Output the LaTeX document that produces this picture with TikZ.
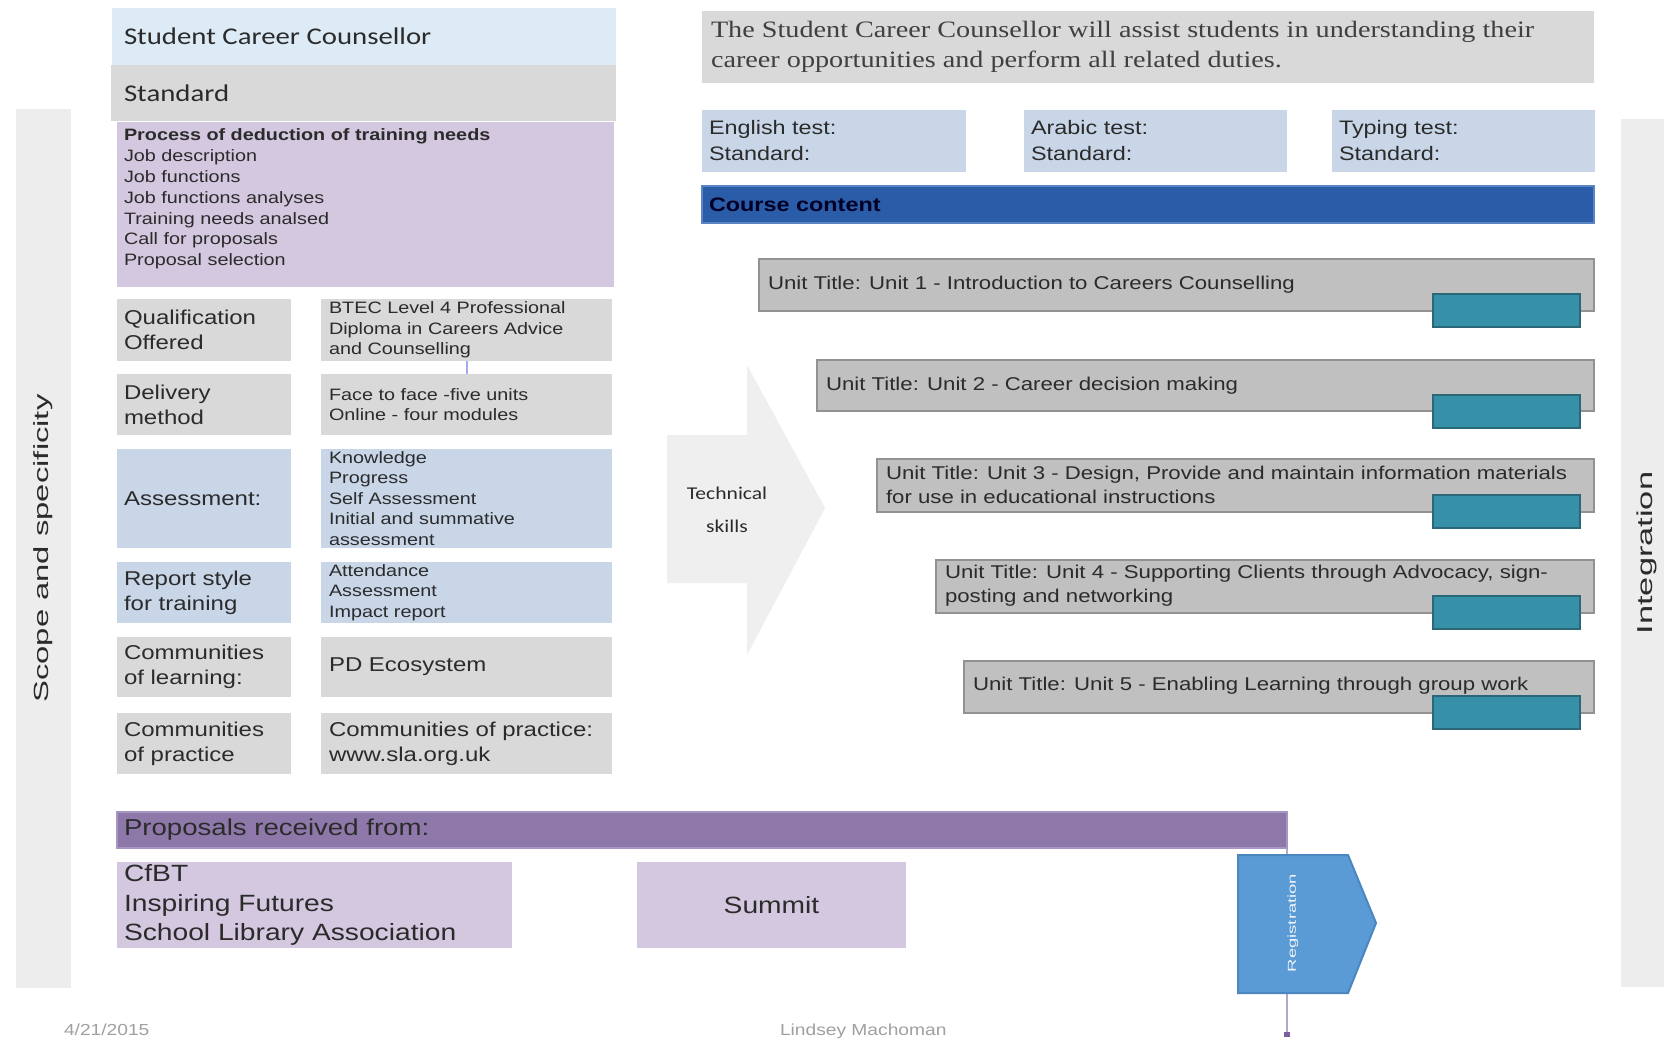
\documentclass[tikz,border=0pt]{standalone}
\usepackage{fontspec}
\usetikzlibrary{arrows.meta,calc}
\setmainfont{Liberation Sans}
\newfontfamily\ar[FakeStretch=1.2]{Liberation Sans}
\newfontfamily\cb[FakeStretch=1.2]{Carlito}
\newfontfamily\tm[FakeStretch=1.2]{Liberation Serif}
\newfontfamily\vr[FakeStretch=1.6]{Liberation Sans}

\definecolor{ink}{HTML}{2B2B2B}
\definecolor{titlebl}{HTML}{DDEBF7}
\definecolor{stdgrey}{HTML}{D9D9D9}
\definecolor{lav}{HTML}{D3C8DF}
\definecolor{rowbl}{HTML}{C8D6E8}
\definecolor{unitgr}{HTML}{C0C0C0}
\definecolor{unitbd}{HTML}{929292}
\definecolor{tealbar}{HTML}{3590A8}
\definecolor{tealbd}{HTML}{2A6878}
\definecolor{course}{HTML}{2A5CA7}
\definecolor{coursebd}{HTML}{5A84C4}
\definecolor{propbar}{HTML}{8E78AA}
\definecolor{propbd}{HTML}{A896C2}
\definecolor{sidegr}{HTML}{EDEDED}
\definecolor{arrowgr}{HTML}{EFEFEF}
\definecolor{regblue}{HTML}{5B9BD5}
\definecolor{regbd}{HTML}{4A87C0}
\definecolor{linklav}{HTML}{B5A6CD}
\definecolor{linkdot}{HTML}{7A5EA0}
\definecolor{linkblue}{HTML}{A8A8F2}
\definecolor{foot}{HTML}{A0A0A0}

\begin{document}
\begin{tikzpicture}[x=1pt,y=-1pt,
  box/.style={rectangle,inner sep=0pt,outer sep=0pt,anchor=north west,draw=none},
  sz/.style 2 args={minimum width=#1,minimum height=#2},
  t/.style={inner sep=0pt,outer sep=0pt,align=left,text=ink},
  lbl/.style={t,anchor=west,xshift=7pt,font=\fontsize{20}{25}\ar},
  small/.style={t,anchor=west,xshift=8pt,font=\fontsize{16.5}{20.5}\ar},
  big/.style={t,anchor=west,xshift=8pt,font=\fontsize{20}{25}\ar},
  unit/.style={box,fill=unitgr,draw=unitbd,line width=2.5pt},
  unittxt/.style={t,anchor=west,xshift=9pt,font=\fontsize{18.5}{24}\ar},
  tealbox/.style={box,fill=tealbar,draw=tealbd,line width=2pt,sz={147}{33}},
  testbox/.style={box,fill=rowbl,sz={263}{62}},
  testtxt/.style={t,anchor=west,xshift=7pt,font=\fontsize{19.5}{26}\ar},
  vtxt/.style={inner sep=0pt,text=ink,rotate=90},
]
\useasboundingbox (0,0) rectangle (1664,1041);
\clip (0,0) rectangle (1664,1041);
\fill[white] (0,0) rectangle (1664,1041);

% ---- side bars
\node[box,fill=sidegr,sz={55}{879}] (scope) at (16,109) {};
\node[vtxt,font=\fontsize{20.5}{24}\vr] (scope-t) at (scope.center) {Scope and specificity};
\node[box,fill=sidegr,sz={60}{868}] (integ) at (1621,119) {};
\node[vtxt,font=\fontsize{21.5}{24}\vr] (integ-t) at (1647,553) {Integration};

% ---- role header
\node[box,fill=titlebl,sz={504}{57}] (title) at (112,8) {};
\node[t,anchor=west,xshift=12pt,font=\fontsize{24}{28}\cb] (title-t) at (title.west) {Student Career Counsellor};
\node[box,fill=stdgrey,sz={505}{56}] (std) at (111,65) {};
\node[t,anchor=west,xshift=13pt,font=\fontsize{24}{28}\cb] (std-t) at (std.west) {Standard};

\node[box,fill=lav,sz={497}{165}] (needs) at (117,122) {};
\node[t,anchor=north west,font=\fontsize{16.5}{20.8}\ar] (needs-t) at ($(needs.north west)+(7,7)$)
  {\textbf{Process of deduction of training needs}\\Job description\\Job functions\\Job functions analyses\\Training needs analsed\\Call for proposals\\Proposal selection};

% ---- programme table
\node[box,fill=stdgrey,sz={174}{62}] (ql) at (117,299) {};
\node[lbl] (ql-t) at (ql.west) {Qualification\\Offered};
\node[box,fill=stdgrey,sz={291}{62}] (qr) at (321,299) {};
\node[small] (qr-t) at (qr.west) {BTEC Level 4 Professional\\Diploma in Careers Advice\\and Counselling};

\node[box,fill=stdgrey,sz={174}{61}] (dl) at (117,374) {};
\node[lbl] (dl-t) at (dl.west) {Delivery\\method};
\node[box,fill=stdgrey,sz={291}{61}] (dr) at (321,374) {};
\node[small] (dr-t) at (dr.west) {Face to face -five units\\Online - four modules};

\node[box,fill=rowbl,sz={174}{99}] (al) at (117,449) {};
\node[lbl] (al-t) at (al.west) {Assessment:};
\node[box,fill=rowbl,sz={291}{99}] (ar) at (321,449) {};
\node[small] (ar-t) at (ar.west) {Knowledge\\Progress\\Self Assessment\\Initial and summative\\assessment};

\node[box,fill=rowbl,sz={174}{61}] (rl) at (117,562) {};
\node[lbl] (rl-t) at (rl.west) {Report style\\for training};
\node[box,fill=rowbl,sz={291}{61}] (rr) at (321,562) {};
\node[small] (rr-t) at (rr.west) {Attendance\\Assessment\\Impact report};

\node[box,fill=stdgrey,sz={174}{60}] (cl) at (117,637) {};
\node[lbl] (cl-t) at (cl.west) {Communities\\of learning:};
\node[box,fill=stdgrey,sz={291}{60}] (cr) at (321,637) {};
\node[big] (cr-t) at (cr.west) {PD Ecosystem};

\node[box,fill=stdgrey,sz={174}{61}] (pl) at (117,713) {};
\node[lbl] (pl-t) at (pl.west) {Communities\\of practice};
\node[box,fill=stdgrey,sz={291}{61}] (pr) at (321,713) {};
\node[big] (pr-t) at (pr.west) {Communities of practice:\\www.sla.org.uk};

\draw[linkblue,line width=2pt] (qr.south) -- (dr.north);

% ---- description and tests
\node[box,fill=stdgrey,sz={892}{72}] (desc) at (702,11) {};
\node[t,anchor=west,xshift=9pt,text=ink!90,font=\fontsize{23.5}{30}\tm] (desc-t) at (desc.west)
  {The Student Career Counsellor will assist students in understanding their\\career opportunities and perform all related duties.};

\node[testbox,sz={264}{62}] (eng) at (702,110) {};
\node[testtxt] (eng-t) at (eng.west) {English test:\\Standard:};
\node[testbox] (arb) at (1024,110) {};
\node[testtxt] (arb-t) at (arb.west) {Arabic test:\\Standard:};
\node[testbox] (typ) at (1332,110) {};
\node[testtxt] (typ-t) at (typ.west) {Typing test:\\Standard:};

\node[box,fill=course,draw=coursebd,line width=2pt,sz={892}{37}] (cc) at (702,186) {};
\node[t,anchor=west,xshift=7pt,text=black!85!blue,font=\fontsize{19.5}{24}\ar\bfseries] (cc-t) at (cc.west) {Course content};

% ---- units
\node[unit,sz={835}{52}] (u1) at (759,259) {};
\node[unittxt] (u1-t) at (u1.west) {Unit Title: Unit 1 - Introduction to Careers Counselling};
\node[tealbox] (t1) at (1433,294) {};

\node[unit,sz={777}{51}] (u2) at (817,360) {};
\node[unittxt] (u2-t) at (u2.west) {Unit Title: Unit 2 - Career decision making};
\node[tealbox] (t2) at (1433,395) {};

\node[unit,sz={717}{53}] (u3) at (877,459) {};
\node[unittxt,yshift=1pt] (u3-t) at (u3.west) {Unit Title: Unit 3 - Design, Provide and maintain information materials\\for use in educational instructions};
\node[tealbox] (t3) at (1433,495) {};

\node[unit,sz={658}{53}] (u4) at (936,560) {};
\node[unittxt,yshift=1pt] (u4-t) at (u4.west) {Unit Title: Unit 4 - Supporting Clients through Advocacy, sign-\\posting and networking};
\node[tealbox] (t4) at (1433,596) {};

\node[unit,sz={630}{52}] (u5) at (964,661) {};
\node[unittxt,yshift=1pt] (u5-t) at (u5.west) {Unit Title: Unit 5 - Enabling Learning through group work};
\node[tealbox] (t5) at (1433,696) {};

% ---- technical skills arrow
\fill[arrowgr] (667,435) -- (747,435) -- (747,365) -- (825,508) -- (747,655) -- (747,583) -- (667,583) -- cycle;
\node[t,align=center,font=\fontsize{18}{33}\cb] (tech) at (727,510) {Technical\\skills};

% ---- proposals
\draw[linklav,line width=2pt,-{Square[length=5pt,width=6pt,linkdot]}] (1287,848) coordinate (propend) -- (1287,1037) coordinate (regend);
\node[box,fill=propbar,draw=propbd,line width=2pt,sz={1170}{36}] (prop) at (117,812) {};
\node[t,anchor=west,xshift=7pt,font=\fontsize{23}{28}\ar] (prop-t) at (prop.west) {Proposals received from:};

\node[box,fill=lav,sz={395}{86}] (cfbt) at (117,862) {};
\node[t,anchor=west,xshift=7pt,font=\fontsize{23.5}{29.5}\ar] (cfbt-t) at (cfbt.west) {CfBT\\Inspiring Futures\\School Library Association};
\node[box,fill=lav,sz={269}{86}] (summit) at (637,862) {};
\node[t,font=\fontsize{23.5}{29.5}\ar] (summit-t) at (summit.center) {Summit};

% ---- registration pentagon
\filldraw[fill=regblue,draw=regbd,line width=2pt] (1238,855) -- (1348,855) -- (1376,923) -- (1348,993) -- (1238,993) -- cycle;
\node[vtxt,text=white!90!regblue,font=\fontsize{11.5}{13}\vr] (reg) at (1293,923) {Registration};

% ---- footer
\node[t,anchor=base west,text=foot,font=\fontsize{16}{18}\ar] (date) at (64,1035) {4/21/2015};
\node[t,anchor=base west,text=foot,font=\fontsize{16}{18}\ar] (author) at (780,1035) {Lindsey Machoman};
\end{tikzpicture}
\end{document}
